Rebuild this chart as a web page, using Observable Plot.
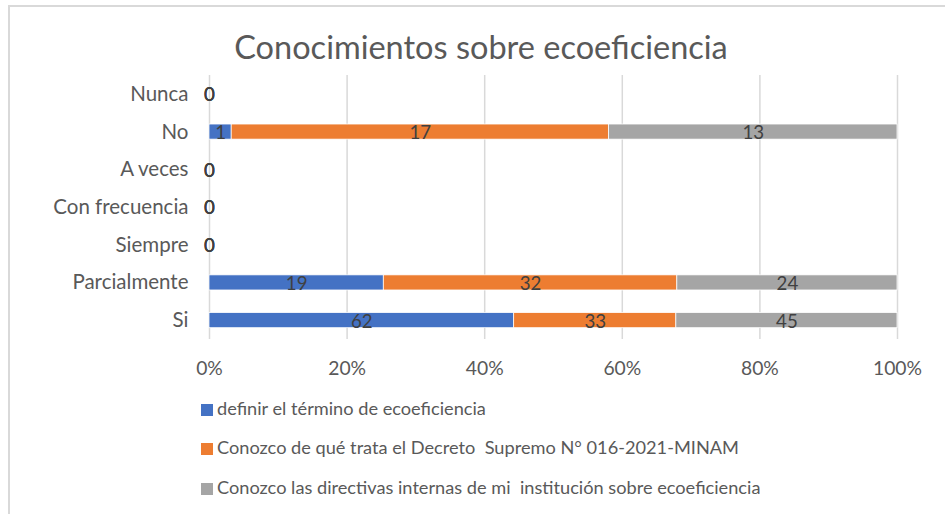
<!DOCTYPE html>
<html>
<head>
<meta charset="utf-8">
<script src="https://cdn.jsdelivr.net/npm/d3@7"></script>
<script src="https://cdn.jsdelivr.net/npm/@observablehq/plot@0.6"></script>
<style>
  html, body { margin: 0; padding: 0; background: #fff; }
  body { width: 945px; height: 514px; position: relative; overflow: hidden; font-family: Lato, "Open Sans", sans-serif; }
  #frame { position: absolute; left: 8px; top: 5px; width: 960px; height: 540px; border: 2px solid #d9d9d9; box-sizing: border-box; }
  #title { position: absolute; left: 0; width: 962px; top: 27px; text-align: center; font-size: 32.5px; color: #595959; line-height: 40px; }
  #chart { position: absolute; left: 0; top: 0; }
  .leg { position: absolute; left: 201px; font-size: 18.2px; color: #595959; line-height: 22px; white-space: pre; }
  .leg span.sw { display: inline-block; width: 12px; height: 12px; margin-right: 4px; vertical-align: -1px; }
</style>
</head>
<body>
<div id="frame"></div>
<div id="title">Conocimientos sobre ecoeficiencia</div>
<div id="chart"></div>
<div id="legend"></div>
<script>
const categories = ["Nunca", "No", "A veces", "Con frecuencia", "Siempre", "Parcialmente", "Si"];
const seriesNames = [
  "definir el término de ecoeficiencia",
  "Conozco de qué trata el Decreto  Supremo N° 016-2021-MINAM",
  "Conozco las directivas internas de mi  institución sobre ecoeficiencia"
];
const seriesColors = ["#4472C4", "#ED7D31", "#A5A5A5"];
const definir    = [0, 1, 0, 0, 0, 19, 62];
const decreto    = [0, 17, 0, 0, 0, 32, 33];
const directivas = [0, 13, 0, 0, 0, 24, 45];
const xTicks = [0, 0.2, 0.4, 0.6, 0.8, 1];

const seriesValues = [definir, decreto, directivas];
const rows = [];
categories.forEach((cat, i) => {
  const total = seriesValues.reduce((s, arr) => s + arr[i], 0);
  let acc = 0;
  seriesValues.forEach((arr, k) => {
    const v = arr[i];
    const x1 = total ? acc / total : 0;
    acc += v;
    const x2 = total ? acc / total : 0;
    rows.push({cat, series: seriesNames[k], value: v, x1, x2, mid: (x1 + x2) / 2});
  });
});

const fmt = d => Math.round(d * 100) + "%";
const plot = Plot.plot({
  width: 945,
  height: 390,
  marginTop: 75,
  marginBottom: 51,
  marginLeft: 209,
  marginRight: 48,
  style: {fontFamily: "Lato, 'Open Sans', sans-serif", fontSize: "17px", color: "#595959", background: "transparent"},
  x: {domain: [0, 1], ticks: xTicks, tickFormat: fmt, label: null},
  y: {domain: categories, label: null, paddingInner: 0.6, paddingOuter: 0.3, round: false},
  color: {domain: seriesNames, range: seriesColors},
  marks: [
    Plot.ruleX(xTicks, {stroke: "#d9d9d9", strokeWidth: 1.5}),
    Plot.barX(rows, {x1: "x1", x2: "x2", y: "cat", fill: "series", stroke: "white", strokeWidth: 0.75}),
    Plot.text(rows, {x: "mid", y: "cat", text: d => String(d.value), fill: "#404040", fontSize: 18.7, dy: 1}),
    Plot.axisX({ticks: xTicks, tickFormat: fmt, tickSize: 0, tickPadding: 22, fontSize: 19.3, label: null}),
    Plot.axisY({tickSize: 0, tickPadding: 21, fontSize: 20.5, label: null})
  ]
});
document.getElementById("chart").appendChild(plot);

const leg = document.getElementById("legend");
const legY = [397, 436, 476];
seriesNames.forEach((name, k) => {
  const d = document.createElement("div");
  d.className = "leg";
  d.style.top = legY[k] + "px";
  const sw = document.createElement("span");
  sw.className = "sw";
  sw.style.background = seriesColors[k];
  d.appendChild(sw);
  d.appendChild(document.createTextNode(name));
  leg.appendChild(d);
});
</script>
</body>
</html>
